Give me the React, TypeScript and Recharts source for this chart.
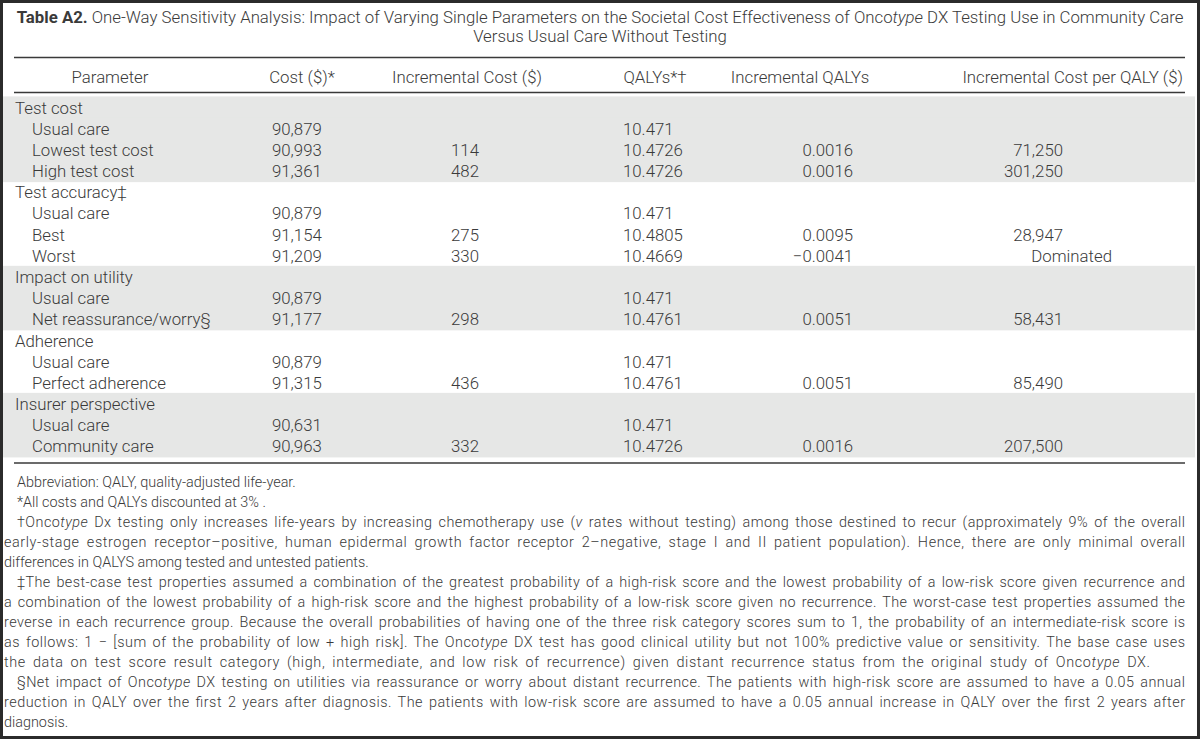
import React from "react";
import { ComposedChart, XAxis, YAxis, Bar, Customized } from "recharts";

// ---------- data ----------
const columnHeaders = [
  "Parameter",
  "Cost ($)*",
  "Incremental Cost ($)",
  "QALYs*†",
  "Incremental QALYs",
  "Incremental Cost per QALY ($)",
];

const parameters = [
  "Test cost",
  "Usual care",
  "Lowest test cost",
  "High test cost",
  "Test accuracy‡",
  "Usual care",
  "Best",
  "Worst",
  "Impact on utility",
  "Usual care",
  "Net reassurance/worry§",
  "Adherence",
  "Usual care",
  "Perfect adherence",
  "Insurer perspective",
  "Usual care",
  "Community care",
];

// 0 = group heading, 1 = parameter inside a group
const rowLevels = [0, 1, 1, 1, 0, 1, 1, 1, 0, 1, 1, 0, 1, 1, 0, 1, 1];

const costs = [null, 90879, 90993, 91361, null, 90879, 91154, 91209, null, 90879, 91177, null, 90879, 91315, null, 90631, 90963];
const incrementalCosts = [null, null, 114, 482, null, null, 275, 330, null, null, 298, null, null, 436, null, null, 332];
const qalys = [null, 10.471, 10.4726, 10.4726, null, 10.471, 10.4805, 10.4669, null, 10.471, 10.4761, null, 10.471, 10.4761, null, 10.471, 10.4726];
const incrementalQalys = [null, null, 0.0016, 0.0016, null, null, 0.0095, -0.0041, null, null, 0.0051, null, null, 0.0051, null, null, 0.0016];
const costPerQaly = [null, null, 71250, 301250, null, null, 28947, "Dominated", null, null, 58431, null, null, 85490, null, null, 207500];

const titleBold = "Table A2.";
const titleLine1 = " One-Way Sensitivity Analysis: Impact of Varying Single Parameters on the Societal Cost Effectiveness of Onco";
const titleLine1Italic = "type";
const titleLine1End = " DX Testing Use in Community Care";
const titleLine2 = "Versus Usual Care Without Testing";

type Seg = [string, boolean];
// justifyTo: right edge the line is spread to (0 = not justified)
const footnotes: { segs: Seg[]; justifyTo: number; indent: boolean }[] = [
  { segs: [["Abbreviation: QALY, quality-adjusted life-year.", false]], justifyTo: 0, indent: true },
  { segs: [["*All costs and QALYs discounted at 3% .", false]], justifyTo: 0, indent: true },
  {
    segs: [
      ["†Onco", false],
      ["type", true],
      [" Dx testing only increases life-years by increasing chemotherapy use (", false],
      ["v", true],
      [" rates without testing) among those destined to recur (approximately 9% of the overall", false],
    ],
    justifyTo: 1185,
    indent: true,
  },
  {
    segs: [["early-stage estrogen receptor–positive, human epidermal growth factor receptor 2–negative, stage I and II patient population). Hence, there are only minimal overall", false]],
    justifyTo: 1185,
    indent: false,
  },
  { segs: [["differences in QALYS among tested and untested patients.", false]], justifyTo: 0, indent: false },
  {
    segs: [["‡The best-case test properties assumed a combination of the greatest probability of a high-risk score and the lowest probability of a low-risk score given recurrence and", false]],
    justifyTo: 1185,
    indent: true,
  },
  {
    segs: [["a combination of the lowest probability of a high-risk score and the highest probability of a low-risk score given no recurrence. The worst-case test properties assumed the", false]],
    justifyTo: 1185,
    indent: false,
  },
  {
    segs: [["reverse in each recurrence group. Because the overall probabilities of having one of the three risk category scores sum to 1, the probability of an intermediate-risk score is", false]],
    justifyTo: 1185,
    indent: false,
  },
  {
    segs: [
      ["as follows: 1 − [sum of the probability of low + high risk]. The Onco", false],
      ["type", true],
      [" DX test has good clinical utility but not 100% predictive value or sensitivity. The base case uses", false],
    ],
    justifyTo: 1185,
    indent: false,
  },
  {
    segs: [
      ["the data on test score result category (high, intermediate, and low risk of recurrence) given distant recurrence status from the original study of Onco", false],
      ["type", true],
      [" DX.", false],
    ],
    justifyTo: 1150,
    indent: false,
  },
  {
    segs: [
      ["§Net impact of Onco", false],
      ["type", true],
      [" DX testing on utilities via reassurance or worry about distant recurrence. The patients with high-risk score are assumed to have a 0.05 annual", false],
    ],
    justifyTo: 1185,
    indent: true,
  },
  {
    segs: [["reduction in QALY over the first 2 years after diagnosis. The patients with low-risk score are assumed to have a 0.05 annual increase in QALY over the first 2 years after", false]],
    justifyTo: 1185,
    indent: false,
  },
  { segs: [["diagnosis.", false]], justifyTo: 0, indent: false },
];

// ---------- derived table ----------
const groupIndexOfRow: number[] = [];
rowLevels.forEach((lvl, i) => {
  const prev = i === 0 ? -1 : groupIndexOfRow[i - 1];
  groupIndexOfRow.push(lvl === 0 ? prev + 1 : prev);
});
const rows = parameters.map((p, i) => ({
  id: `${i}|${p}`,
  parameter: p,
  shade: groupIndexOfRow[i] % 2 === 0 ? 1 : 0,
}));

// ---------- styles ----------
const FONT = "Roboto, 'Liberation Sans', Arial, sans-serif";
const TEXT = "#3a3a3a";
const LINE = "#3a3a3a";
const BAND = "#e6e7e6";
const W = 1200;
const H = 739;
const TABLE_FS = 16.8;
const NOTE_FS = 14.4;

const fmtInt = (v: number) => v.toLocaleString("en-US");
const fmtQ = (v: number) => (v < 0 ? "−" + Math.abs(v).toFixed(4) : v.toFixed(4));

let ctx: CanvasRenderingContext2D | null = null;
const measure = (segs: Seg[], fs: number) => {
  if (typeof document === "undefined") return 0;
  if (!ctx) ctx = document.createElement("canvas").getContext("2d");
  if (!ctx) return 0;
  let w = 0;
  segs.forEach(([t, it]) => {
    ctx!.font = `${it ? "italic " : ""}300 ${fs}px Roboto`;
    w += ctx!.measureText(t).width;
  });
  return w;
};

const RowTick = (props: any) => {
  const { y, payload } = props;
  let idx = rows.findIndex((r) => r.id === payload?.value);
  if (idx < 0 && typeof payload?.index === "number") idx = payload.index;
  if (idx < 0) return null;
  const common = { fontFamily: FONT, fontSize: TABLE_FS, fontWeight: 300, fill: TEXT, dominantBaseline: "central" as const };
  const c = costs[idx];
  const ic = incrementalCosts[idx];
  const q = qalys[idx];
  const iq = incrementalQalys[idx];
  const cp = costPerQaly[idx];
  return (
    <g>
      <text x={rowLevels[idx] === 0 ? 15 : 32} y={y} {...common}>{parameters[idx]}</text>
      {c != null && <text x={272} y={y} {...common}>{fmtInt(c)}</text>}
      {ic != null && <text x={479} y={y} textAnchor="end" {...common}>{fmtInt(ic)}</text>}
      {q != null && <text x={623} y={y} {...common}>{String(q)}</text>}
      {iq != null && <text x={853} y={y} textAnchor="end" {...common}>{fmtQ(iq)}</text>}
      {cp != null && (
        <text x={typeof cp === "string" ? 1112 : 1063} y={y} textAnchor="end" {...common}>
          {typeof cp === "number" ? fmtInt(cp) : cp}
        </text>
      )}
    </g>
  );
};

const BandShape = (props: any) => {
  const { x, y, width, height, value } = props;
  const v = Array.isArray(value) ? value[1] : value;
  if (!v || !width) return null;
  return <rect x={x} y={y - 0.6} width={width} height={height + 1.2} fill={BAND} />;
};

const Overlay = () => {
  const base = { fontFamily: FONT, fill: TEXT, dominantBaseline: "central" as const };
  const headerX = [110, 302, 467, 655, 800, 1183];
  const headerAnchor: ("middle" | "end")[] = ["middle", "middle", "middle", "middle", "middle", "end"];
  const fnY0 = 482;
  const fnStep = 20;
  return (
    <g>
      <rect x={1.5} y={1.5} width={W - 3} height={H - 3} fill="none" stroke="#2b2b2b" strokeWidth={3} />
      <text x={600} y={17} textAnchor="middle" fontSize={TABLE_FS} fontWeight={300} {...base}>
        <tspan fontWeight={700}>{titleBold}</tspan>
        <tspan>{titleLine1}</tspan>
        <tspan fontStyle="italic">{titleLine1Italic}</tspan>
        <tspan>{titleLine1End}</tspan>
      </text>
      <text x={600} y={36} textAnchor="middle" fontSize={TABLE_FS} fontWeight={300} {...base}>
        {titleLine2}
      </text>
      <line x1={14} x2={1185} y1={57.5} y2={57.5} stroke={LINE} strokeWidth={1.5} />
      <line x1={14} x2={1185} y1={92.5} y2={92.5} stroke={LINE} strokeWidth={1.5} />
      <line x1={14} x2={1185} y1={463} y2={463} stroke={LINE} strokeWidth={1.5} />
      {columnHeaders.map((h, i) => (
        <text key={h} x={headerX[i]} y={77} textAnchor={headerAnchor[i]} fontSize={TABLE_FS} fontWeight={300} {...base}>
          {h}
        </text>
      ))}
      {footnotes.map((f, i) => {
        const x = f.indent ? 17 : 4;
        let extra: any = {};
        if (f.justifyTo > 0) {
          const target = f.justifyTo - x;
          const natural = measure(f.segs, NOTE_FS);
          const spaces = f.segs.reduce((n, [t]) => n + (t.match(/ /g) || []).length, 0);
          // part of the slack goes to word gaps, the rest is spread over glyphs by textLength
          const ws = natural > 0 && spaces > 0 ? Math.max(0, (0.4 * (target - natural)) / spaces) : 0;
          extra = { textLength: target, lengthAdjust: "spacing", style: { wordSpacing: `${ws}px` } };
        }
        return (
          <text key={i} x={x} y={fnY0 + i * fnStep} fontSize={NOTE_FS} fontWeight={300} {...base} {...extra}>
            {f.segs.map(([t, it], k) => (
              <tspan key={k} fontStyle={it ? "italic" : "normal"}>{t}</tspan>
            ))}
          </text>
        );
      })}
    </g>
  );
};

export default function App() {
  return (
    <div style={{ position: "absolute", left: 0, top: 0, width: W, height: H, background: "#ffffff" }}>
      <ComposedChart
        width={W}
        height={H}
        data={rows}
        layout="vertical"
        barCategoryGap={0}
        barGap={0}
        margin={{ top: 97, bottom: H - 457, left: 2, right: 5 }}
      >
        <XAxis type="number" domain={[0, 1]} hide />
        <YAxis
          type="category"
          dataKey="id"
          width={1}
          axisLine={false}
          tickLine={false}
          interval={0}
          tick={<RowTick />}
        />
        <Bar dataKey="shade" isAnimationActive={false} shape={<BandShape />} />
        <Customized component={<Overlay />} />
      </ComposedChart>
    </div>
  );
}
